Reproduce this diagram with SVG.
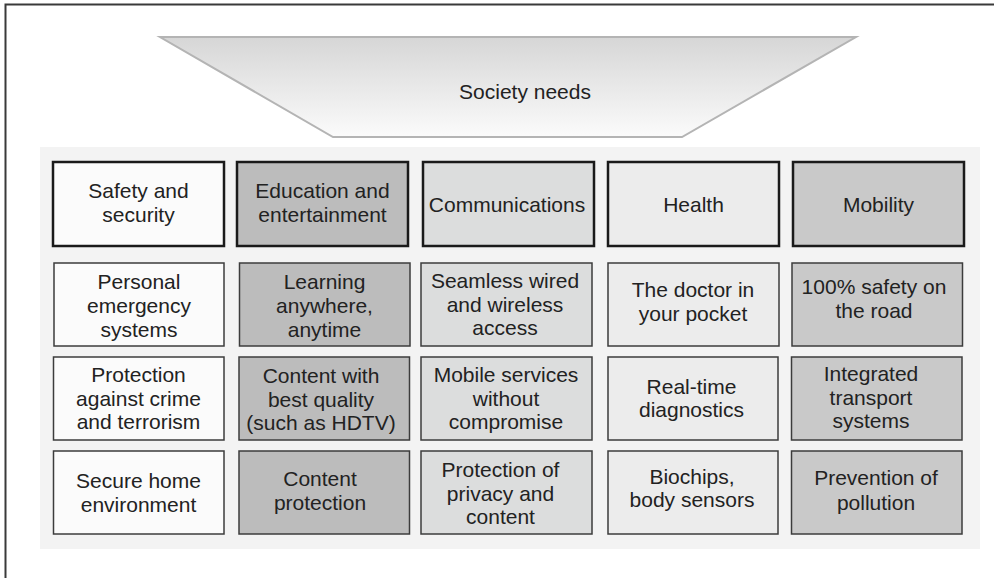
<svg xmlns="http://www.w3.org/2000/svg" width="994" height="578" viewBox="0 0 994 578">
<defs>
<linearGradient id="trapG" x1="0" y1="0" x2="0" y2="1">
<stop offset="0" stop-color="#d6d6d6"/>
<stop offset="1" stop-color="#fbfbfb"/>
</linearGradient>
<style>
text{font-family:"Liberation Sans",Arial,Helvetica,sans-serif;font-size:21px;fill:#222;text-anchor:middle}
.hdr{stroke:#1a1a1a;stroke-width:2.5}
.box{stroke:#3c3c3c;stroke-width:1.5}
.c1{fill:#fbfbfb}.c2{fill:#bcbcbc}.c3{fill:#dcdddd}.c4{fill:#ececec}.c5{fill:#c9c9c9}
</style>
</defs>
<rect width="994" height="578" fill="#ffffff"/>
<path d="M5.5,578 V4.5 H994" fill="none" stroke="#3a3a3a" stroke-width="2"/>
<g id="society-needs">
<polygon points="160,37 856,37 682,137 333,137" fill="url(#trapG)" stroke="#b4b4b4" stroke-width="2"/>
<text x="525" y="99">Society needs</text>
</g>
<rect x="40" y="147" width="940" height="402" fill="#f3f3f3"/>
<g id="connectors"></g>
<g id="h-safety"><rect class="hdr c1" x="53" y="162" width="171" height="84"/><text x="138.5" y="198">Safety and</text><text x="138.5" y="222">security</text></g>
<g id="h-education"><rect class="hdr c2" x="237" y="162" width="171" height="84"/><text x="322.5" y="198">Education and</text><text x="322.5" y="222">entertainment</text></g>
<g id="h-communications"><rect class="hdr c3" x="423" y="162" width="171" height="84"/><text x="507" y="212">Communications</text></g>
<g id="h-health"><rect class="hdr c4" x="608" y="162" width="171" height="84"/><text x="693.5" y="212">Health</text></g>
<g id="h-mobility"><rect class="hdr c5" x="793" y="162" width="171" height="84"/><text x="878.5" y="212">Mobility</text></g>

<g id="r1-safety"><rect class="box c1" x="54" y="263" width="170" height="83"/><text x="139" y="289">Personal</text><text x="139" y="313">emergency</text><text x="139" y="337">systems</text></g>
<g id="r1-education"><rect class="box c2" x="239.5" y="263" width="170.5" height="83"/><text x="324.5" y="289">Learning</text><text x="324.5" y="313">anywhere,</text><text x="324.5" y="337">anytime</text></g>
<g id="r1-communications"><rect class="box c3" x="421" y="263" width="171" height="83"/><text x="505" y="288">Seamless wired</text><text x="505" y="311.5">and wireless</text><text x="505" y="335">access</text></g>
<g id="r1-health"><rect class="box c4" x="608" y="263" width="171" height="83"/><text x="693" y="297">The doctor in</text><text x="693" y="321">your pocket</text></g>
<g id="r1-mobility"><rect class="box c5" x="792" y="263" width="170.5" height="83"/><text x="874" y="294">100% safety on</text><text x="874" y="317.5">the road</text></g>

<g id="r2-safety"><rect class="box c1" x="53.5" y="357" width="170.5" height="83"/><text x="138.5" y="382">Protection</text><text x="138.5" y="405.5">against crime</text><text x="138.5" y="429">and terrorism</text></g>
<g id="r2-education"><rect class="box c2" x="239" y="357" width="170.5" height="83"/><text x="321" y="383">Content with</text><text x="321" y="406.5">best quality</text><text x="321" y="430">(such as HDTV)</text></g>
<g id="r2-communications"><rect class="box c3" x="421" y="357" width="171" height="83"/><text x="506" y="382">Mobile services</text><text x="506" y="405.5">without</text><text x="506" y="429">compromise</text></g>
<g id="r2-health"><rect class="box c4" x="608" y="357" width="170" height="83"/><text x="691.5" y="393.5">Real-time</text><text x="691.5" y="417">diagnostics</text></g>
<g id="r2-mobility"><rect class="box c5" x="791.5" y="357" width="170.5" height="83"/><text x="871" y="381">Integrated</text><text x="871" y="404.5">transport</text><text x="871" y="428">systems</text></g>

<g id="r3-safety"><rect class="box c1" x="53.5" y="451" width="170.5" height="83"/><text x="138.5" y="488">Secure home</text><text x="138.5" y="512">environment</text></g>
<g id="r3-education"><rect class="box c2" x="239" y="451" width="170.5" height="83"/><text x="320" y="486">Content</text><text x="320" y="510">protection</text></g>
<g id="r3-communications"><rect class="box c3" x="421" y="451" width="171" height="83"/><text x="500.5" y="477">Protection of</text><text x="500.5" y="500.5">privacy and</text><text x="500.5" y="524">content</text></g>
<g id="r3-health"><rect class="box c4" x="608" y="451" width="170" height="83"/><text x="692" y="483.5">Biochips,</text><text x="692" y="507">body sensors</text></g>
<g id="r3-mobility"><rect class="box c5" x="791.5" y="451" width="170.5" height="83"/><text x="876" y="485">Prevention of</text><text x="876" y="510">pollution</text></g>
</svg>
